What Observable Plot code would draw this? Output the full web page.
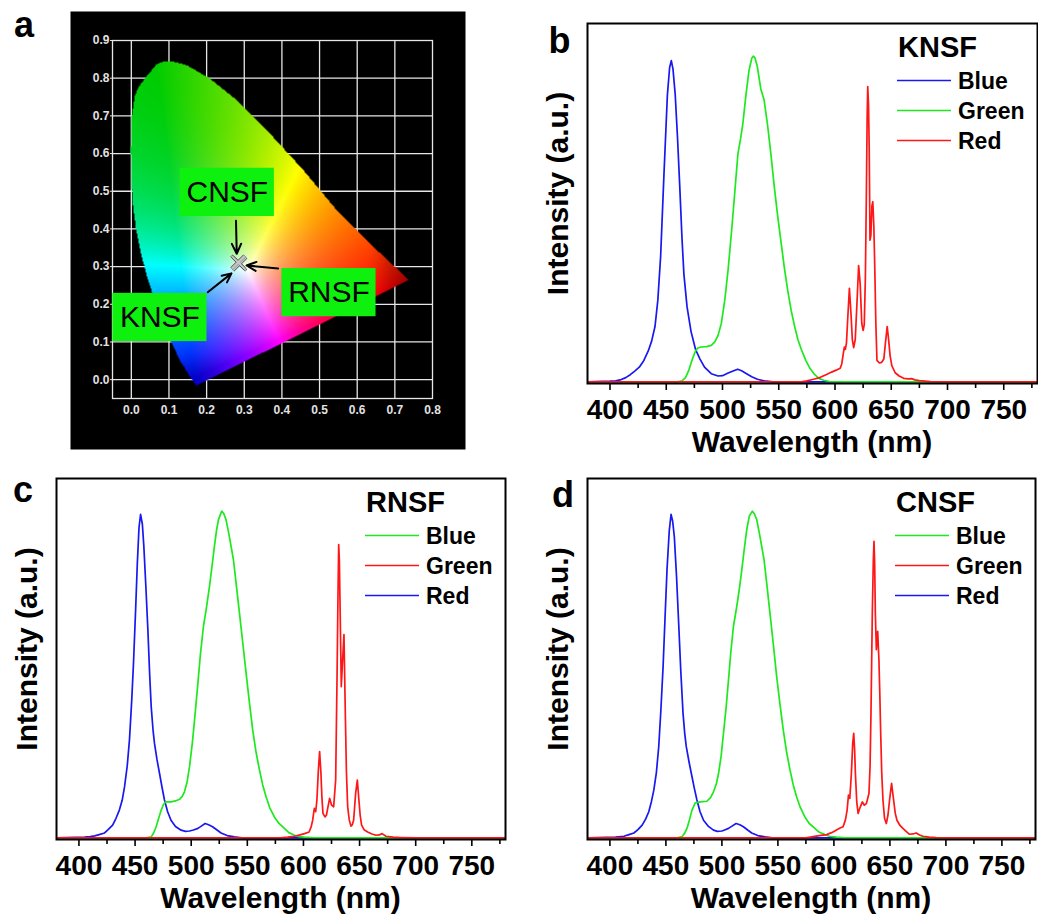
<!DOCTYPE html>
<html>
<head>
<meta charset="utf-8">
<script src="https://cdn.jsdelivr.net/npm/d3@7"></script>
<script src="https://cdn.jsdelivr.net/npm/@observablehq/plot@0.6"></script>
<style>
html,body{margin:0;padding:0;background:#fff;}
#fig{position:relative;width:1038px;height:920px;overflow:hidden;background:#fff;}
</style>
</head>
<body>
<div id="fig"></div>
<script>
// ---------- Panel a data (CIE 1931 chromaticity) ----------
const cieTicksX = [0, 0.1, 0.2, 0.3, 0.4, 0.5, 0.6, 0.7, 0.8];
const cieTicksY = [0, 0.1, 0.2, 0.3, 0.4, 0.5, 0.6, 0.7, 0.8, 0.9];
const cieGridX = [0, 0.1, 0.2, 0.3, 0.4, 0.5, 0.6, 0.7];
const cieGridY = [0, 0.1, 0.2, 0.3, 0.4, 0.5, 0.6, 0.7, 0.8];
// spectral locus outline as drawn in the picture (x, y)
const cieLocus = [
  [0.086,0.845],[0.065,0.835],[0.05,0.816],[0.035,0.798],[0.019,0.776],[0.01,0.755],[0.006,0.732],
  [0.0,0.688],[-0.001,0.608],[0.0,0.537],[0.004,0.466],[0.012,0.404],[0.024,0.342],[0.04,0.28],
  [0.059,0.219],[0.081,0.157],[0.104,0.104],[0.13,0.05],[0.157,0.006],[0.173,-0.016],
  [0.737,0.265],[0.635,0.36],[0.546,0.449],[0.458,0.555],[0.369,0.652],[0.281,0.741],
  [0.21,0.798],[0.148,0.834],[0.115,0.843]
];
// corners of the diagram used as display primaries (red, green, blue) and its white point
const ciePrimaries = [[0.735, 0.265], [0.07, 0.83], [0.168, 0.004]];
const cieWhite = [0.31, 0.29];
const ciePoints = [{x:0.283,y:0.312},{x:0.288,y:0.307},{x:0.285,y:0.310}];
const cieLabels = [
  {name:"CNSF", x:0.255, y:0.497},
  {name:"KNSF", x:0.076, y:0.165},
  {name:"RNSF", x:0.525, y:0.231}
];
const cieArrows = [
  {x1:0.278, y1:0.422, x2:0.280, y2:0.334},
  {x1:0.390, y1:0.295, x2:0.306, y2:0.303},
  {x1:0.203, y1:0.232, x2:0.266, y2:0.282}
];

// ---------- Spectra data: [wavelength nm, normalized intensity] ----------
const wavelengthTicks = [400, 450, 500, 550, 600, 650, 700, 750];
const minorTicks = [425, 475, 525, 575, 625, 675, 725, 775];
const seriesNames = ["Blue", "Green", "Red"];

const blueB = [[380,0],[400,0.002],[405,0.003],[410,0.007],[414,0.013],[418,0.022],[422,0.033],[426,0.045],[430,0.065],[434,0.095],[437,0.125],[440,0.17],[442.5,0.25],[445,0.385],[448,0.64],[451,0.88],[453,0.965],[454.5,0.986],[456,0.96],[458,0.88],[460,0.75],[462,0.6],[464,0.44],[465.7,0.33],[468.5,0.23],[472,0.155],[476,0.1],[480,0.07],[484,0.045],[490,0.025],[496,0.018],[500,0.019],[505,0.027],[510,0.034],[513.5,0.039],[517,0.034],[521,0.026],[526,0.016],[531,0.008],[537,0.003],[545,0],[780,0]];
const greenB = [[380,0],[460,0],[464,0.003],[467,0.012],[470,0.035],[473,0.068],[476,0.095],[478,0.104],[481,0.107],[486,0.108],[490,0.112],[493,0.122],[496,0.142],[499,0.18],[502,0.25],[505,0.345],[508,0.46],[511,0.585],[513.7,0.70],[516,0.745],[518,0.79],[520.5,0.87],[523.5,0.955],[526,0.993],[527.5,1.0],[529,0.993],[531,0.967],[534,0.9],[537,0.865],[540,0.79],[543,0.7],[546,0.6],[549,0.51],[552,0.43],[555,0.35],[558,0.28],[561,0.22],[564,0.172],[567,0.13],[570,0.1],[574,0.066],[578,0.04],[582,0.022],[586,0.01],[590,0.005],[595,0.001],[605,0],[780,0]];
const redB = [[380,0],[570,0],[575,0.003],[581,0.008],[587,0.014],[592,0.022],[597,0.03],[601,0.036],[604.6,0.042],[606,0.055],[607.3,0.085],[608.3,0.107],[609.2,0.1],[610.2,0.12],[611.4,0.2],[612.8,0.287],[614.2,0.21],[615.4,0.13],[616.6,0.105],[618,0.13],[619.5,0.24],[621,0.357],[622.4,0.3],[623.8,0.18],[625,0.158],[626,0.175],[627,0.32],[627.9,0.58],[628.6,0.82],[629.1,0.906],[629.8,0.85],[630.4,0.72],[631.1,0.435],[631.9,0.45],[632.8,0.54],[633.6,0.553],[634.5,0.48],[635.3,0.36],[636.3,0.18],[637.3,0.066],[639.5,0.058],[641.5,0.06],[643.4,0.07],[645,0.125],[646.4,0.17],[647.7,0.128],[649,0.08],[650.5,0.05],[653.5,0.028],[657,0.018],[661,0.011],[665,0.009],[668,0.01],[671,0.006],[675,0.004],[685,0.001],[700,0],[780,0]];

const blueC = [[380,0],[405,0.002],[410,0.004],[414,0.006],[418,0.01],[422.8,0.015],[426,0.025],[430,0.039],[433,0.06],[436,0.085],[438.5,0.115],[440.6,0.156],[443,0.22],[445,0.30],[447,0.42],[448.6,0.535],[450.5,0.7],[452,0.84],[453.5,0.95],[454.9,0.99],[456.5,0.96],[457.8,0.893],[459.6,0.77],[461.4,0.637],[463,0.5],[464.4,0.40],[466,0.33],[467.3,0.289],[469.5,0.24],[471.8,0.197],[474,0.155],[476.2,0.116],[479,0.08],[482,0.054],[486,0.035],[491,0.0235],[495,0.02],[498.5,0.021],[502,0.024],[506,0.029],[509,0.036],[512.4,0.044],[515.5,0.04],[519,0.034],[523,0.024],[526.6,0.015],[532,0.007],[538.5,0.003],[545,0],[780,0]];
const greenC = [[380,0],[460,0],[464.4,0.003],[466.5,0.015],[468.8,0.034],[471,0.06],[473.3,0.085],[475,0.1],[477,0.11],[482,0.11],[486,0.113],[489.6,0.118],[492,0.127],[494,0.141],[496.3,0.17],[498.5,0.218],[501,0.29],[503,0.361],[505.6,0.46],[508.3,0.565],[511,0.65],[513.3,0.698],[516.3,0.77],[518.5,0.83],[520.7,0.893],[522.5,0.94],[524.3,0.974],[527.2,1.0],[529,0.993],[531,0.974],[533.3,0.935],[535.5,0.893],[537.6,0.852],[540,0.78],[543,0.688],[546,0.595],[548.9,0.504],[552,0.41],[554.8,0.33],[557.8,0.262],[560.8,0.208],[563.7,0.162],[566.7,0.126],[570,0.092],[574.1,0.064],[578,0.045],[583,0.029],[587,0.016],[592,0.008],[596,0.004],[600.8,0.002],[610,0],[780,0]];
const redC = [[380,0],[580,0],[586,0.002],[592,0.005],[597.8,0.01],[601,0.013],[605,0.018],[607,0.035],[608.2,0.054],[609.7,0.09],[610.9,0.08],[612,0.116],[613.3,0.208],[614.4,0.264],[615.6,0.197],[616.5,0.12],[617.4,0.075],[619.2,0.064],[620.5,0.07],[621.6,0.09],[623.3,0.121],[625.1,0.1],[626.9,0.095],[628.7,0.177],[629.9,0.484],[630.8,0.75],[631.4,0.898],[632,0.85],[632.5,0.739],[633.7,0.463],[634.9,0.545],[636.1,0.622],[637.3,0.381],[638.3,0.2],[639.4,0.095],[640.8,0.055],[642.3,0.036],[643.5,0.04],[644.7,0.054],[646.5,0.136],[648,0.177],[649.4,0.116],[650.5,0.07],[651.8,0.039],[654,0.025],[657.2,0.018],[661,0.012],[664.6,0.008],[667.5,0.009],[670,0.013],[673.5,0.005],[680,0.002],[686.8,0.001],[700,0],[780,0]];

const blueD = [[380,0],[405,0.002],[412.5,0.005],[417,0.01],[421.4,0.015],[425,0.025],[428.8,0.039],[432,0.058],[434.7,0.08],[437,0.11],[439.2,0.146],[441.5,0.2],[443.6,0.279],[445.5,0.39],[447.5,0.525],[449.3,0.68],[451,0.821],[453,0.94],[454.6,0.99],[456,0.97],[457.5,0.923],[459.5,0.8],[461.4,0.657],[463.3,0.51],[465.3,0.381],[466.8,0.32],[468.2,0.279],[470.8,0.23],[473.3,0.187],[475.5,0.15],[477.7,0.116],[480.5,0.08],[483.6,0.054],[488,0.035],[492.5,0.0235],[496,0.02],[500,0.021],[503,0.025],[505.9,0.029],[509,0.036],[512.7,0.044],[516,0.04],[519.2,0.034],[523,0.024],[526.6,0.015],[532,0.007],[538.5,0.003],[545,0],[780,0]];
const greenD = [[380,0],[460,0],[464.5,0.004],[466.5,0.013],[468.8,0.029],[471,0.055],[473.3,0.085],[476.2,0.107],[480.7,0.11],[486.6,0.112],[490,0.124],[492.5,0.141],[495,0.165],[497,0.197],[499.3,0.25],[501.4,0.32],[503.8,0.4],[505.9,0.484],[508,0.57],[510.3,0.647],[513.3,0.709],[515.5,0.76],[517.8,0.821],[520,0.885],[522.2,0.944],[524.5,0.985],[527.2,1.0],[529,0.992],[531.1,0.974],[533.3,0.935],[535.5,0.893],[537.6,0.852],[540,0.78],[542.9,0.688],[546,0.59],[548.9,0.494],[552,0.405],[554.8,0.33],[557.8,0.262],[560.8,0.208],[563.7,0.162],[566.7,0.126],[570,0.093],[574.1,0.064],[578,0.044],[583,0.029],[587,0.017],[591.9,0.01],[596,0.005],[602.3,0.002],[610,0],[780,0]];
const redD = [[380,0],[575,0],[581.5,0.004],[587,0.007],[593.4,0.01],[598,0.016],[602.3,0.024],[605.5,0.03],[608.2,0.034],[610.3,0.055],[611.8,0.085],[613,0.131],[614.2,0.121],[615.6,0.197],[616.8,0.29],[617.7,0.32],[618.5,0.27],[619.2,0.197],[620.4,0.11],[621.6,0.075],[622.6,0.085],[623.6,0.095],[625.4,0.11],[627.2,0.1],[629,0.105],[631.3,0.136],[632.3,0.22],[633.1,0.381],[634.3,0.688],[635.2,0.85],[635.8,0.908],[636.4,0.84],[637,0.688],[637.9,0.576],[639.1,0.632],[640.2,0.545],[641,0.44],[641.7,0.33],[642.7,0.2],[643.8,0.116],[645.2,0.06],[646.8,0.044],[648.3,0.07],[649.7,0.116],[651.5,0.167],[653.3,0.116],[654.8,0.075],[656.3,0.054],[659,0.038],[661.6,0.029],[664.5,0.02],[667.5,0.011],[670.5,0.012],[673.5,0.015],[676.5,0.009],[679.4,0.005],[685,0.002],[691.3,0.001],[705,0],[780,0]];

// ---------- Styling ----------
const FONT = "Arial, 'Liberation Sans', Helvetica, sans-serif";
const BLUE = "#1818f0", GREEN = "#1ee81e", RED = "#ff1616";
const fig = document.getElementById("fig");

function place(node, left, top) {
  node.style.position = "absolute";
  node.style.left = left + "px";
  node.style.top = top + "px";
  node.style.maxWidth = "none";
  fig.appendChild(node);
  return node;
}

// ---- chromaticity -> display colour using the diagram's corner primaries ----
const xyz = ([x, y]) => [x / y, 1, (1 - x - y) / y];
function inv3(m) {
  const [[a, b, c], [d, e, f], [g, h, i]] = m;
  const A = e * i - f * h, B = -(d * i - f * g), C = d * h - e * g;
  const det = a * A + b * B + c * C;
  return [
    [A / det, -(b * i - c * h) / det, (b * f - c * e) / det],
    [B / det, (a * i - c * g) / det, -(a * f - c * d) / det],
    [C / det, -(a * h - b * g) / det, (a * e - b * d) / det]
  ];
}
const mul = (m, v) => m.map(r => r[0] * v[0] + r[1] * v[1] + r[2] * v[2]);
const P = [0, 1, 2].map(row => ciePrimaries.map(p => xyz(p)[row]));
const S = mul(inv3(P), xyz(cieWhite));
const M = P.map(r => r.map((v, j) => v * S[j]));
const Minv = inv3(M);
const smooth = (a, b, v) => { const t = Math.min(1, Math.max(0, (v - a) / (b - a))); return t * t * (3 - 2 * t); };
function cieFill(x, y) {
  if (!d3.polygonContains(cieLocus, [x, y])) return null;
  const yy = Math.max(y, 0.003);
  let [r, g, b] = mul(Minv, xyz([x, yy])).map(v => Math.max(0, v));
  const m = Math.max(r, g, b) || 1;
  r = Math.pow(r / m, 0.85); g = Math.pow(g / m, 0.85); b = Math.pow(b / m, 1.35);
  // deeper green, darker tips at the red corner and the blue bottom, as in the picture
  g *= 1 - 0.2 * (1 - r) * (1 - b);
  const shade = (1 - 0.35 * smooth(0.62, 0.74, x)) * (1 - 0.22 * smooth(0.09, -0.01, y) * smooth(0.32, 0.18, x));
  const c = v => Math.round(255 * v * shade);
  return `rgb(${c(r)},${c(g)},${c(b)})`;
}

function styleTickText(plot, size) {
  d3.select(plot).selectAll('g[aria-label$="tick label"] text')
    .style("font-size", size + "px").style("font-weight", "bold");
}

// ---------- Panel a ----------
const plotA = Plot.plot({
  width: 470, height: 460,
  marginLeft: 112, marginRight: 38, marginTop: 40, marginBottom: 62,
  style: {fontFamily: FONT, fontSize: "12px", color: "#e2e2e2", background: "white", overflow: "visible"},
  x: {domain: [-0.05, 0.8]},
  y: {domain: [-0.05, 0.9]},
  color: {type: "identity"},
  marks: [
    Plot.frame({fill: "black", insetLeft: -42, insetRight: -33, insetTop: -29, insetBottom: -51}),
    Plot.gridX(cieGridX, {stroke: "#e6e6e6", strokeOpacity: 1, strokeWidth: 1.3}),
    Plot.gridY(cieGridY, {stroke: "#e6e6e6", strokeOpacity: 1, strokeWidth: 1.3}),
    Plot.frame({stroke: "#e6e6e6", strokeWidth: 1.3}),
    Plot.raster({x1: -0.05, x2: 0.8, y1: -0.05, y2: 0.9, pixelSize: 1, fill: cieFill}),
    Plot.rect(cieLabels, {x1: d => d.x - 0.125, x2: d => d.x + 0.125, y1: d => d.y - 0.064, y2: d => d.y + 0.064, fill: "#0ef00e"}),
    Plot.text(cieLabels, {x: "x", y: "y", text: "name", fontSize: 30, fill: "black", fontFamily: FONT}),
    Plot.arrow(cieArrows, {x1: "x1", y1: "y1", x2: "x2", y2: "y2", stroke: "black", strokeWidth: 2, headLength: 11, headAngle: 50}),
    Plot.dot(ciePoints, {x: "x", y: "y", symbol: "times", r: 6, stroke: "#555", strokeWidth: 3}),
    Plot.dot(ciePoints, {x: "x", y: "y", symbol: "times", r: 6, stroke: "#c8c8c8", strokeWidth: 1.4}),
    Plot.axisX(cieTicksX, {tickSize: 0, tickPadding: 7, fontSize: 12, fontWeight: "bold", tickFormat: d3.format(".1f"), label: null}),
    Plot.axisY(cieTicksY, {tickSize: 2, tickPadding: 1, fontSize: 12, fontWeight: "bold", tickFormat: d3.format(".1f"), label: null})
  ]
});
styleTickText(plotA, 12);
d3.select(plotA).append("text").attr("x", 24).attr("y", 37).attr("text-anchor", "middle")
  .attr("font-size", 36).attr("font-weight", "bold").attr("fill", "black").text("a");
place(plotA, 0, 0);

// ---------- Spectra panels ----------
function spectrumPanel(cfg) {
  const {left, top, width, height, mt, mr, mb, ml, series, title, legendColors, letter, letterX, letterY} = cfg;
  const plot = Plot.plot({
    width, height, marginTop: mt, marginRight: mr, marginBottom: mb, marginLeft: ml,
    style: {fontFamily: FONT, fontSize: "28px", fontWeight: "bold", color: "black", background: "white", overflow: "visible"},
    x: {domain: [380, 780]},
    y: {domain: [-0.005, 1.1], axis: null},
    marks: [
      ...series.map(s => Plot.line(s.data, {x: d => d[0], y: d => d[1], stroke: s.color, strokeWidth: 1.7, clip: true})),
      Plot.frame({stroke: "black", strokeWidth: 2}),
      Plot.axisX(minorTicks, {tickSize: 5, strokeWidth: 1.6, tickFormat: () => "", label: null}),
      Plot.axisX(wavelengthTicks, {tickSize: 7, tickPadding: 9, strokeWidth: 1.6, fontSize: 28, fontWeight: "bold", tickFormat: d => String(d), label: null})
    ]
  });
  styleTickText(plot, 28);
  const svg = d3.select(plot);
  const fl = ml, fr = width - mr, ft = mt, fb = height - mb;
  // axis titles
  svg.append("text").attr("x", (fl + fr) / 2).attr("y", fb + 69).attr("text-anchor", "middle")
    .attr("font-size", 30).attr("font-weight", "bold").attr("fill", "black").text("Wavelength (nm)");
  svg.append("text").attr("transform", `translate(${fl - 30},${(ft + fb) / 2 - 9.5}) rotate(-90)`)
    .attr("text-anchor", "middle").attr("dy", "0.35em")
    .attr("font-size", 30).attr("font-weight", "bold").attr("fill", "black").text("Intensity (a.u.)");
  // panel letter
  svg.append("text").attr("x", letterX).attr("y", letterY).attr("text-anchor", "middle")
    .attr("font-size", 36).attr("font-weight", "bold").attr("fill", "black").text(letter);
  // legend
  const lx = fr - 140, ty = ft + 34;
  svg.append("text").attr("x", lx + 1).attr("y", ty).attr("text-anchor", "start")
    .attr("font-size", 29).attr("font-weight", "bold").attr("fill", "black").text(title);
  seriesNames.forEach((name, i) => {
    const yy = ft + 57.5 + i * 30;
    svg.append("line").attr("x1", lx).attr("x2", lx + 54).attr("y1", yy).attr("y2", yy)
      .attr("stroke", legendColors[i]).attr("stroke-width", 1.7);
    svg.append("text").attr("x", lx + 61).attr("y", yy + 8.5).attr("text-anchor", "start")
      .attr("font-size", 23).attr("font-weight", "bold").attr("fill", "black").text(name);
  });
  place(plot, left, top);
}

spectrumPanel({
  left: 540, top: 0, width: 498, height: 460, mt: 23, mr: 1, mb: 77, ml: 47,
  series: [{data: blueB, color: BLUE}, {data: greenB, color: GREEN}, {data: redB, color: RED}],
  title: "KNSF", legendColors: [BLUE, GREEN, RED], letter: "b", letterX: 19.5, letterY: 53
});
spectrumPanel({
  left: 0, top: 460, width: 510, height: 460, mt: 18, mr: 5, mb: 81, ml: 56,
  series: [{data: blueC, color: BLUE}, {data: greenC, color: GREEN}, {data: redC, color: RED}],
  title: "RNSF", legendColors: [GREEN, RED, BLUE], letter: "c", letterX: 23, letterY: 42
});
spectrumPanel({
  left: 540, top: 460, width: 498, height: 460, mt: 18, mr: 3, mb: 81, ml: 47,
  series: [{data: blueD, color: BLUE}, {data: greenD, color: GREEN}, {data: redD, color: RED}],
  title: "CNSF", legendColors: [GREEN, RED, BLUE], letter: "d", letterX: 23, letterY: 47
});
</script>
</body>
</html>
